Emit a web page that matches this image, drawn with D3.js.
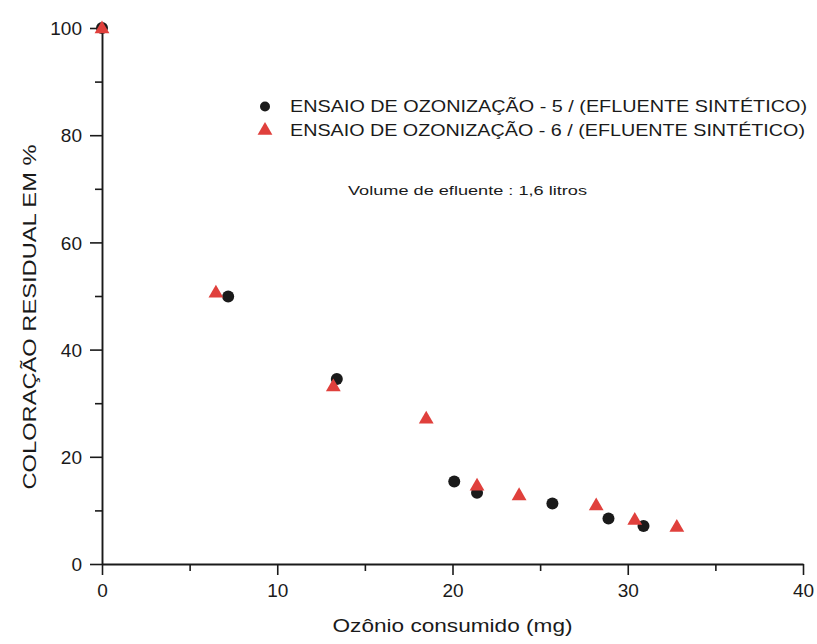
<!DOCTYPE html>
<html>
<head>
<meta charset="utf-8">
<script src="https://cdnjs.cloudflare.com/ajax/libs/d3/7.8.5/d3.min.js"></script>
<style>
  body { margin: 0; background: #fff; }
  text { font-family: "Liberation Sans", Arial, sans-serif; fill: #1a1a1a; }
</style>
</head>
<body>
<div id="chart"></div>
<script>
// ensaio 5 (circulos) e ensaio 6 (triangulos)
var ozonio5 = [0, 7.2, 13.4, 20.1, 21.4, 25.7, 28.9, 30.9];
var cor5 = [100, 49.9, 34.5, 15.4, 13.3, 11.3, 8.5, 7.1];
var ozonio6 = [0, 6.5, 13.2, 18.5, 21.4, 23.8, 28.2, 30.4, 32.8];
var cor6 = [100, 50.7, 33.2, 27.2, 14.7, 12.9, 11.0, 8.3, 7.0];

var xTicks = [0, 10, 20, 30, 40];
var xMinor = [5, 15, 25, 35];
var yTicks = [0, 20, 40, 60, 80, 100];
var yMinor = [10, 30, 50, 70, 90];

var legendLabels = [
    "ENSAIO DE OZONIZAÇÃO - 5 /  (EFLUENTE SINTÉTICO)",
    "ENSAIO DE OZONIZAÇÃO - 6 / (EFLUENTE SINTÉTICO)"
];

var width = 817, height = 644;
var margin = {left: 102, top: 28, right: 14, bottom: 80};
var w = width - margin.left - margin.right;
var h = height - margin.top - margin.bottom;
var red = "#e0403c";
var ink = "#1a1a1a";

var svg = d3.select("#chart")
    .append("svg")
    .attr("width", width)
    .attr("height", height);

var g = svg.append("g")
    .attr("transform", "translate(" + margin.left + "," + margin.top + ")");

var x = d3.scaleLinear().domain([0, 40]).range([0, w]);
var y = d3.scaleLinear().domain([0, 100]).range([h, 0]);

// minor ticks first
g.append("g")
    .attr("transform", "translate(0," + h + ")")
    .call(d3.axisBottom(x).tickValues(xMinor).tickSize(7).tickFormat(""))
    .call(function(a) { a.select(".domain").remove(); });
g.append("g")
    .call(d3.axisLeft(y).tickValues(yMinor).tickSize(7).tickFormat(""))
    .call(function(a) { a.select(".domain").remove(); });

var xAxis = g.append("g")
    .attr("transform", "translate(0," + h + ")")
    .call(d3.axisBottom(x).tickValues(xTicks).tickSize(11).tickSizeOuter(0).tickPadding(9));
var yAxis = g.append("g")
    .call(d3.axisLeft(y).tickValues(yTicks).tickSize(12).tickSizeOuter(0).tickPadding(8));

g.selectAll(".tick line").attr("stroke", ink).attr("stroke-width", 1.6);
g.selectAll(".domain").attr("stroke", ink).attr("stroke-width", 1.9);
g.selectAll(".tick text").style("font-size", "19px").attr("fill", ink);
yAxis.selectAll(".tick text").attr("dy", "0.35em");

// titulos dos eixos
svg.append("text")
    .attr("x", margin.left + w / 2)
    .attr("y", 632)
    .attr("text-anchor", "middle")
    .attr("textLength", 240)
    .attr("lengthAdjust", "spacingAndGlyphs")
    .style("font-size", "18px")
    .text("Ozônio consumido (mg)");

svg.append("text")
    .attr("transform", "translate(36,317) rotate(-90)")
    .attr("text-anchor", "middle")
    .attr("textLength", 345)
    .attr("lengthAdjust", "spacingAndGlyphs")
    .style("font-size", "17.5px")
    .text("COLORAÇÃO RESIDUAL EM %");

// pontos
var tri = d3.symbol().type(d3.symbolTriangle).size(95);

g.selectAll(".c5")
    .data(ozonio5)
    .enter().append("circle")
    .attr("class", "c5")
    .attr("cx", function(d) { return x(d); })
    .attr("cy", function(d, i) { return y(cor5[i]); })
    .attr("r", 6)
    .attr("fill", ink);

g.selectAll(".t6")
    .data(ozonio6)
    .enter().append("path")
    .attr("class", "t6")
    .attr("d", tri)
    .attr("transform", function(d, i) {
        return "translate(" + x(d) + "," + (y(cor6[i]) + 1) + ")";
    })
    .attr("fill", red);

// legenda
var leg = svg.append("g");
leg.append("circle")
    .attr("cx", 265).attr("cy", 106.5).attr("r", 5).attr("fill", ink);
leg.append("path")
    .attr("d", tri)
    .attr("transform", "translate(265,130.5)")
    .attr("fill", red);
leg.selectAll(".lt")
    .data(legendLabels)
    .enter().append("text")
    .attr("class", "lt")
    .attr("x", 290)
    .attr("y", function(d, i) { return 112 + i * 24; })
    .attr("textLength", function(d, i) { return i === 0 ? 517 : 515; })
    .attr("lengthAdjust", "spacingAndGlyphs")
    .style("font-size", "16.5px")
    .text(function(d) { return d; });

svg.append("text")
    .attr("x", 348)
    .attr("y", 195)
    .attr("textLength", 239)
    .attr("lengthAdjust", "spacingAndGlyphs")
    .style("font-size", "13.5px")
    .text("Volume de efluente : 1,6 litros");
</script>
</body>
</html>
